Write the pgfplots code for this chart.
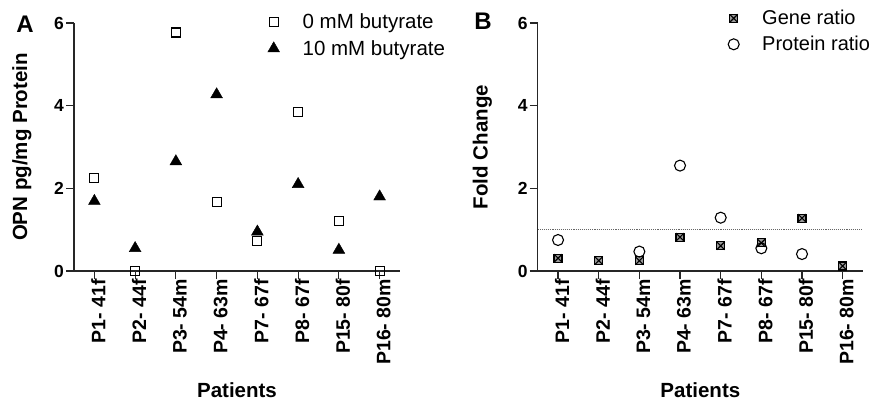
\documentclass[border=0pt]{standalone}
\usepackage{fontspec}
\setmainfont{Liberation Sans}
\usepackage{pgfplots}
\pgfplotsset{compat=1.18}
\pgfdeclareplotmark{boxx}{%
  \pgfpathrectangle{\pgfqpoint{-\pgfplotmarksize}{-\pgfplotmarksize}}{\pgfqpoint{2\pgfplotmarksize}{2\pgfplotmarksize}}%
  \pgfusepathqfillstroke
  \pgfpathmoveto{\pgfqpoint{-\pgfplotmarksize}{-\pgfplotmarksize}}\pgfpathlineto{\pgfqpoint{\pgfplotmarksize}{\pgfplotmarksize}}%
  \pgfpathmoveto{\pgfqpoint{-\pgfplotmarksize}{\pgfplotmarksize}}\pgfpathlineto{\pgfqpoint{\pgfplotmarksize}{-\pgfplotmarksize}}%
  \pgfusepathqstroke}
\pgfplotsset{
  panel/.style={
    scale only axis, anchor=south west,
    width=326pt, height=248pt,
    xmin=-0.5, xmax=7.5, ymin=0, ymax=6,
    axis lines=left, axis line style={-, line width=1.2pt, black!85},
    xtick={0,...,7},
    xticklabels={P1- 41f,P2- 44f,P3- 54m,P4- 63m,P7- 67f,P8- 67f,P15- 80f,P16- 80m},
    ytick={0,2,4,6},
    tick align=outside, major tick length=8pt,
    tick style={line width=1.1pt, black!85},
    /pgf/number format/assume math mode=true,
    x tick label style={rotate=90, anchor=east, font=\fontsize{19.5}{21}\selectfont\bfseries, inner sep=0pt, yshift=-4pt},
    y tick label style={font=\fontsize{17.5}{19}\selectfont\bfseries, inner sep=0pt, xshift=-2pt},
    label style={font=\fontsize{20.5}{23}\selectfont\bfseries},
    xlabel={Patients},
    xlabel style={at={(axis description cs:0.5,-0.48)}, anchor=center},
    clip=false,
    legend style={draw=none, fill=none, font=\fontsize{20.5}{25}\selectfont, inner sep=0pt, row sep=6pt},
    legend cell align=left,
  }
}
\begin{document}
\begin{tikzpicture}
\path[use as bounding box] (0,0) rectangle (872pt,402pt);
\begin{axis}[panel, at={(74pt,131pt)},
  ylabel={OPN pg/mg Protein},
  ylabel style={at={(axis description cs:-0.16,0.5)}, anchor=center},
  legend style={at={(axis description cs:0.594,1.045)}, anchor=north west,
    /tikz/every odd column/.append style={column sep=21pt}}]
\addplot[only marks, mark=square, mark size=4.5pt, line width=1.1pt, black] coordinates {
(0,2.24) (1,0.0) (2,5.77) (3,1.66) (4,0.73) (5,3.84) (6,1.21) (7,0.0)};
\addlegendentry{0 mM butyrate}
\addplot[only marks, mark=triangle*, mark size=6.8pt, black] coordinates {
(0,1.69) (1,0.55) (2,2.65) (3,4.27) (4,0.95) (5,2.10) (6,0.51) (7,1.80)};
\addlegendentry{10 mM butyrate}
\end{axis}
\node[font=\fontsize{24}{26}\selectfont\bfseries] at (25pt,378pt) {A};
\begin{axis}[panel, at={(537.7pt,131pt)}, width=325.3pt,
  ylabel={Fold Change},
  ylabel style={at={(axis description cs:-0.17,0.5)}, anchor=center},
  legend style={font=\fontsize{20}{24}\selectfont, at={(axis description cs:0.585,1.06)}, anchor=north west,
    /tikz/every odd column/.append style={column sep=21pt}}]
\addplot[only marks, mark=boxx, mark size=4pt, line width=1.1pt, black, fill=black!40] coordinates {
(0,0.31) (1,0.25) (2,0.25) (3,0.82) (4,0.61) (5,0.68) (6,1.28) (7,0.12)};
\addlegendentry{Gene ratio}
\addplot[only marks, mark=o, mark size=5.5pt, line width=1.1pt, black] coordinates {
(0,0.75) (2,0.47) (3,2.55) (4,1.29) (5,0.55) (6,0.41)};
\addlegendentry{Protein ratio}
\addplot[densely dotted, line width=1.1pt, black!60, forget plot] coordinates {(-0.5,1) (7.5,1)};
\end{axis}
\node[font=\fontsize{24}{26}\selectfont\bfseries] at (483pt,381pt) {B};
\end{tikzpicture}
\end{document}
